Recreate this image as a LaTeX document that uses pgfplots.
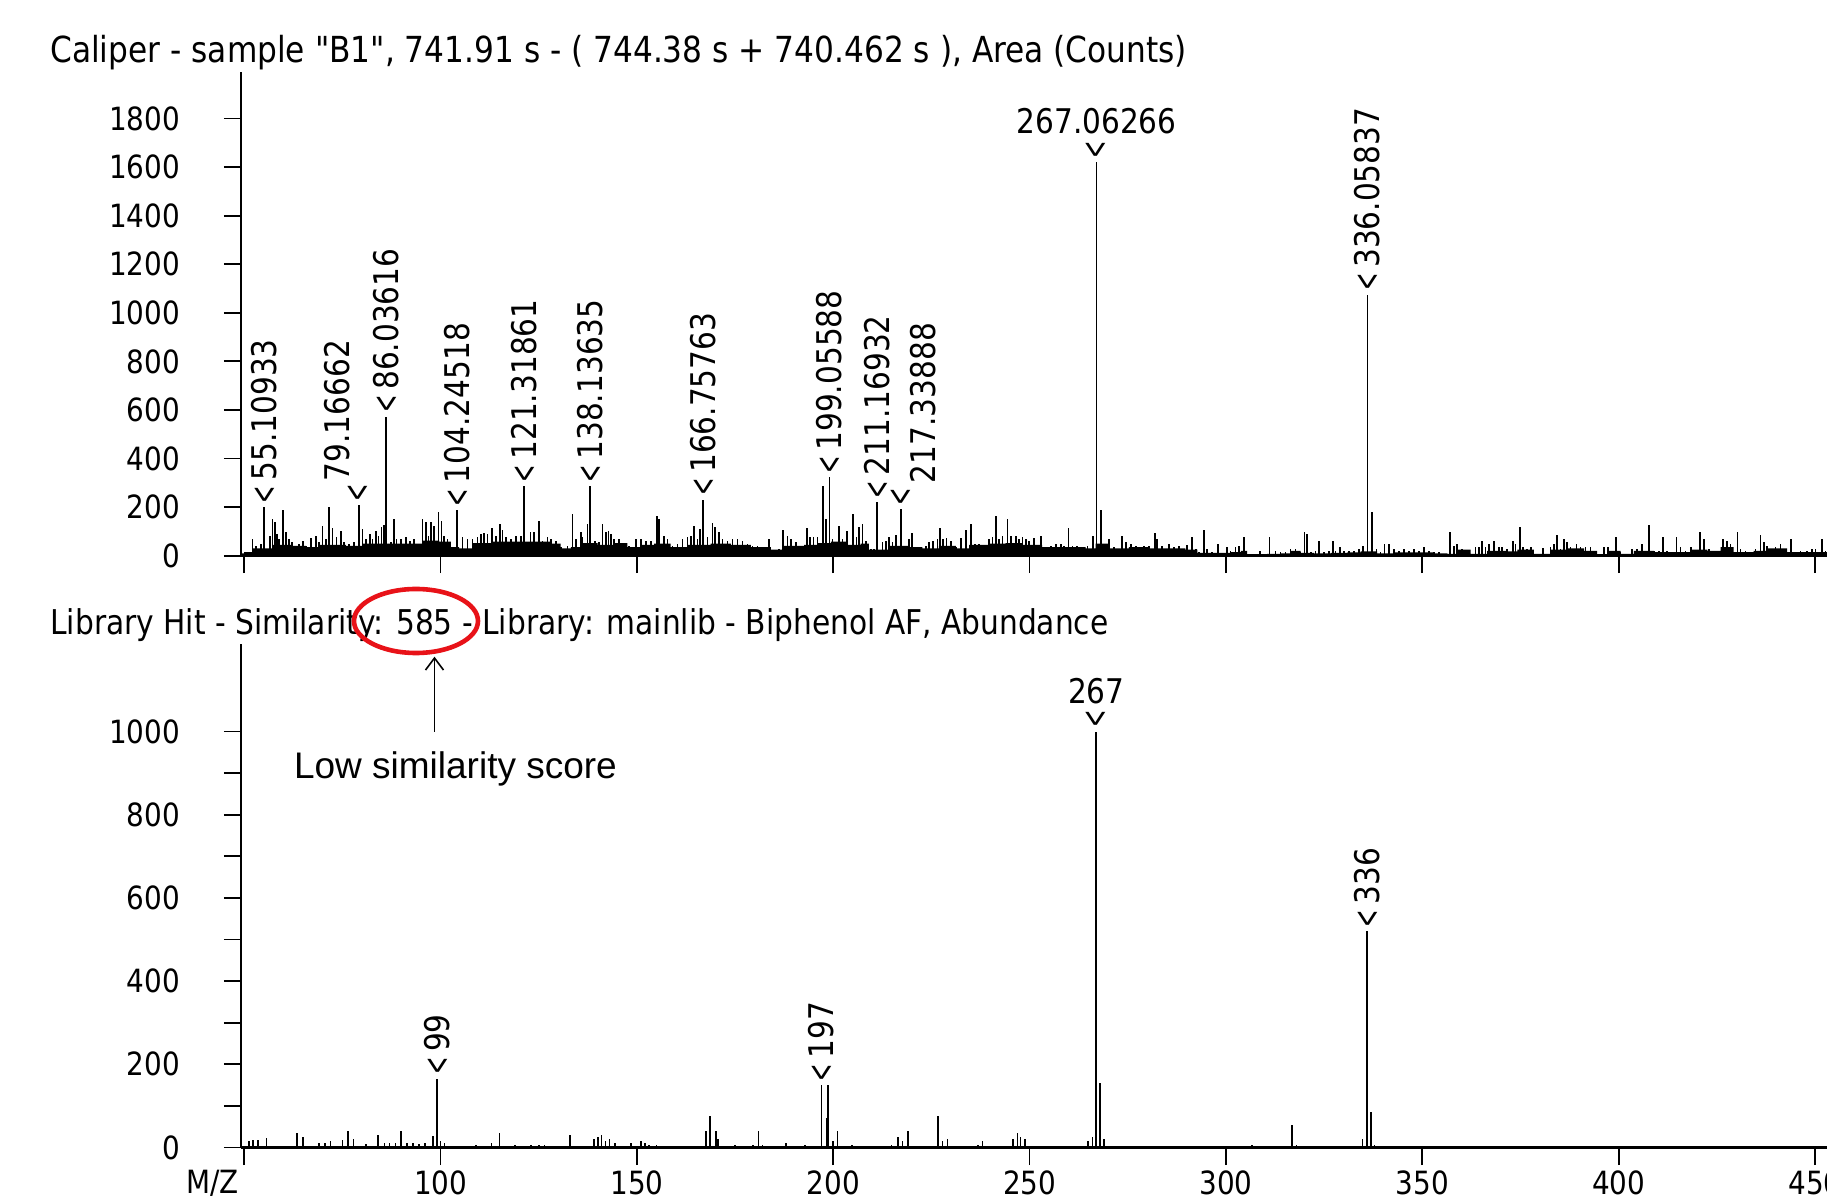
\documentclass[border=0pt]{standalone}
\usepackage{graphicx}
\usepackage{pgfplots}
\pgfplotsset{compat=1.18}
\usepackage{pgfplotstable}
\usepackage{fontspec}
\usetikzlibrary{arrows.meta}
\setmainfont{DejaVu Sans}[FakeStretch=0.87]
\newfontfamily\tah{DejaVu Sans}[FakeStretch=0.87]
\newfontfamily\arialf{Liberation Sans}
\definecolor{annred}{RGB}{232,18,24}
\newcommand{\chev}{\scalebox{0.7}[1.1]{<}}
\newcommand{\tickfont}{\fontsize{16}{19}\selectfont}
\newcommand{\lblfont}{\fontsize{17}{20}\selectfont}

\pgfplotstableread{
x y
52.13 69
52.98 41
54.25 48
55.109 199
56.54 82
57.22 151
57.82 137
58.32 89
58.92 69
59.85 189
60.62 96
61.46 69
62.14 55
63.16 34
64.01 48
65.03 62
65.71 41
66.98 71
68.26 82
69.11 55
69.96 121
70.81 69
71.65 199
72.50 113
73.52 75
74.62 103
75.47 55
76.75 48
78.02 55
79.167 208
80.13 110
80.97 69
81.99 89
82.67 69
83.52 103
84.20 82
84.96 117
85.64 126
86.036 572
87.31 55
88.16 151
88.76 69
89.86 69
91.16 75
92.18 62
93.28 69
94.13 41
95.40 151
96.25 140
96.93 82
97.52 137
98.38 124
99.48 178
100.24 144
100.92 82
101.77 69
103.04 27
104.245 188
105.60 75
106.87 69
108.15 69
109.42 75
110.27 89
111.12 93
111.97 89
113.07 113
114.09 82
115.11 130
115.79 107
116.64 75
117.91 69
119.18 82
120.46 82
121.319 285
122.93 96
123.84 96
125.11 144
125.96 62
127.23 75
128.08 69
129.35 62
130.63 34
132.32 41
133.60 172
134.45 69
135.72 96
136.14 75
137.42 130
138.136 285
139.37 62
140.39 55
141.23 130
142.08 96
142.76 103
143.36 89
144.21 69
145.48 69
146.75 48
148.02 41
149.72 69
150.99 69
152.27 62
153.54 62
155.07 162
155.66 151
156.93 82
157.78 69
159.06 41
160.33 48
161.60 69
162.87 75
163.72 82
164.57 124
165.42 69
166.10 110
166.758 230
167.97 75
169.24 133
169.83 117
170.94 96
171.78 69
173.06 62
174.33 69
175.60 69
176.88 62
178.15 48
179.42 41
180.70 41
181.97 34
183.66 69
184.94 21
186.21 27
187.23 106
188.33 82
189.18 69
190.45 55
191.73 41
193.26 114
194.10 75
194.95 75
195.97 75
197.35 288
198.09 151
199.056 322
199.79 69
201.49 124
202.33 69
203.43 103
205.05 172
205.90 75
206.58 117
207.43 130
208.28 62
209.55 27
210.40 27
211.169 220
212.52 55
213.37 62
214.22 75
215.06 55
215.91 85
217.339 192
218.46 41
219.31 69
219.99 93
221.00 34
222.28 34
223.55 41
224.40 55
225.42 62
226.52 69
227.20 113
227.96 69
228.81 74
229.92 62
231.19 34
232.46 73
233.73 107
235.01 130
236.11 48
237.13 48
238.40 41
239.67 69
240.52 75
241.37 162
242.22 69
243.07 82
244.34 151
245.19 82
246.46 82
247.31 69
248.16 75
249.01 69
249.86 62
251.13 71
252.83 82
254.10 34
255.37 41
256.65 48
257.92 48
258.77 41
259.87 113
260.89 41
262.16 41
263.43 34
264.71 41
266.15 82
267.063 1620
268.27 189
269.37 41
270.22 69
271.50 34
273.62 82
274.64 55
275.74 48
277.01 41
278.29 27
279.13 41
280.41 41
281.93 92
282.53 69
283.80 41
285.50 48
286.77 34
288.05 41
289.32 27
290.17 45
291.44 75
292.29 27
293.14 14
294.41 106
295.26 27
296.53 14
297.97 48
299.08 7
300.35 37
301.20 21
302.47 37
303.32 41
304.59 75
308.67 21
309.69 7
311.13 75
312.66 21
313.93 14
315.20 14
316.47 27
317.75 27
319.02 14
320.04 96
320.72 89
321.74 14
322.84 21
323.69 62
324.96 14
326.23 21
327.25 62
327.93 21
329.03 37
330.05 21
331.32 21
332.60 21
333.87 27
334.97 41
336.058 1074
337.27 178
338.37 27
339.39 14
340.40 48
341.51 48
342.78 27
344.05 21
345.33 27
346.60 21
347.87 27
349.14 21
350.42 34
351.69 21
352.96 14
354.24 14
355.51 7
357.04 96
358.06 41
358.90 48
360.18 27
361.45 14
362.72 7
363.57 37
364.42 34
365.27 62
366.12 34
366.97 48
368.24 62
369.51 34
370.36 34
371.63 27
373.16 62
373.76 48
374.86 117
375.71 34
376.73 27
377.75 37
380.80 30
382.67 34
383.52 48
384.37 86
385.21 27
386.06 69
386.91 55
387.76 34
389.29 48
390.31 37
391.58 37
392.85 37
396.25 37
397.27 34
398.37 7
399.39 78
400.49 14
401.76 7
403.46 27
404.73 27
406.00 48
407.70 126
408.98 21
410.25 21
411.27 78
412.37 21
413.64 14
414.75 78
415.76 34
417.04 21
418.48 37
419.58 21
420.69 99
421.70 69
422.98 27
424.25 21
425.52 7
426.63 69
427.65 62
428.49 48
430.27 99
431.04 27
432.31 21
433.58 14
434.86 27
436.13 86
436.98 55
437.83 41
438.85 27
439.95 37
441.22 48
442.07 27
443.94 69
445.04 14
446.31 21
448.01 21
449.28 27
450.13 27
451.83 69
452.68 21
}\topsticks

\pgfplotstableread{
x y
49.3 10
50.0 15
52.1 30
57.2 45
62.3 40
65.7 35
69.1 45
75.9 40
80.1 50
86.0 50
92.8 50
95.4 62
99.6 58
102.6 35
104.7 30
108.1 52
113.2 58
118.2 58
124.2 58
128.1 50
130.6 30
133.2 35
135.7 52
140.0 45
144.2 52
147.6 35
151.0 45
154.4 50
158.6 35
162.9 45
168.8 50
173.9 45
179.0 35
184.1 25
187.5 40
192.6 45
196.0 52
199.4 58
203.6 45
207.0 50
209.1 25
214.2 40
219.3 35
222.7 30
226.9 40
231.2 30
234.6 45
239.7 50
243.9 52
248.2 45
253.2 35
258.3 35
264.3 30
266.8 50
270.2 30
275.3 35
280.4 30
285.5 30
289.7 25
292.7 12
297.0 12
301.2 15
303.8 20
305.4 2
308.0 5
310.5 8
313.9 10
316.5 20
319.0 12
322.4 10
326.7 12
330.9 14
334.3 18
338.5 10
342.8 14
347.9 14
353.0 10
356.4 8
358.9 25
362.3 8
366.5 20
371.6 18
374.2 25
378.4 8
382.7 25
386.9 30
391.2 20
394.5 2
397.1 20
400.5 8
403.9 20
409.0 15
414.1 15
418.3 25
422.6 20
426.0 35
429.3 15
434.4 20
437.8 30
442.9 15
448.0 15
453.2 20
}\topfloor

\pgfplotstableread{
x y
51.2 15
52.3 18
53.5 18
55.7 22
63.4 35
65.0 25
69.0 12
70.5 12
72.0 15
75.0 18
76.4 40
77.8 20
81.0 8
84.0 30
85.7 12
87.0 12
88.5 10
90.0 40
91.5 10
93.0 10
94.5 8
96.0 10
98.1 28
99.0 165
100.0 15
101.0 10
109.0 5
113.0 10
115.0 35
119.0 5
123.0 5
125.0 5
126.5 5
133.0 30
139.0 20
140.0 25
141.0 30
142.0 15
143.0 20
144.5 10
148.5 10
151.0 15
152.0 10
153.0 5
155.0 5
167.6 40
168.7 75
170.1 40
170.7 20
175.0 5
179.5 5
181.0 40
182.0 5
188.0 10
192.8 5
197.0 150
198.3 70
198.7 150
200.0 15
201.1 40
204.8 5
214.8 5
216.5 25
217.6 15
219.1 40
226.7 75
227.8 15
229.1 20
236.9 5
238.0 15
245.8 20
246.9 35
247.7 25
248.9 20
264.8 15
266.0 25
267.0 999
268.0 155
269.0 20
306.6 5
316.8 53
318.0 5
334.8 20
336.0 520
337.0 85
337.8 5
}\botsticks

\pgfplotsset{
  msaxis/.style={
    scale only axis, width=793pt,
    xmin=49.3, xmax=453.2, ymin=0,
    axis x line*=bottom, axis y line*=left,
    tick align=outside,
    major tick length=8.75pt, minor tick length=8.75pt,
    major tick style={line width=0.9pt, black},
    minor tick style={line width=0.9pt, black},
    x axis line style={line width=1.3pt},
    y axis line style={line width=1pt},
    xtick={50,100,...,450},
    scaled ticks=false,
    /pgf/number format/assume math mode=true,
    /pgf/number format/1000 sep={},
    tick label style={font=\tickfont},
    yticklabel style={anchor=east, inner sep=0pt, xshift=-21.75pt},
    xticklabel style={anchor=north, inner sep=0pt, yshift=-2.5pt},
  },
}
\tikzset{rlab/.style={rotate=90, anchor=west, inner sep=0pt, outer sep=0pt, font=\lblfont},
  hlab/.style={anchor=south, inner sep=0pt, outer sep=0pt, font=\lblfont}}

\begin{document}
\begin{tikzpicture}
\begin{axis}[msaxis, at={(0pt,0pt)}, anchor=south west, height=241.7pt,
  ymax=1990, ytick={0,200,...,1800}, xticklabels={}]
\addplot[fill=black, draw=none, const plot] table[x=x,y=y] {\topfloor} \closedcycle;
\addplot[ycomb, black, line width=0.85pt] table[x=x,y=y] {\topsticks};
\node[yshift=2pt, rlab] at (axis cs:55.109,199) {\chev\,55.10933};
\node[yshift=2pt, rlab] at (axis cs:79.167,208) {\chev};
\node[xshift=-10.7pt, yshift=12pt, rlab] at (axis cs:79.167,208) {79.16662};
\node[yshift=2pt, rlab] at (axis cs:86.036,572) {\chev\,86.03616};
\node[yshift=2pt, rlab] at (axis cs:104.245,188) {\chev\,104.24518};
\node[yshift=2pt, rlab] at (axis cs:121.319,285) {\chev\,121.31861};
\node[yshift=2pt, rlab] at (axis cs:138.136,285) {\chev\,138.13635};
\node[yshift=2pt, rlab] at (axis cs:166.758,230) {\chev\,166.75763};
\node[yshift=2pt, rlab] at (axis cs:199.056,322) {\chev\,199.05588};
\node[yshift=2pt, rlab] at (axis cs:211.169,220) {\chev\,211.16932};
\node[yshift=2pt, rlab] at (axis cs:217.339,192) {\chev};
\node[xshift=11pt, yshift=13pt, rlab] at (axis cs:217.339,192) {217.33888};
\node[yshift=2pt, rlab] at (axis cs:267.063,1620) {\chev};
\node[yshift=14pt, hlab] at (axis cs:267.063,1620) {267.06266};
\node[yshift=2pt, rlab] at (axis cs:336.058,1074) {\chev\,336.05837};
\end{axis}

\begin{axis}[msaxis, at={(0pt,-295.9pt)}, anchor=south west, height=251.7pt,
  ymax=1210, ytick={0,200,...,1000}, minor ytick={100,300,...,900},
  xticklabels={,100,150,200,250,300,350,400,450}]
\addplot[ycomb, black, line width=0.85pt] table[x=x,y=y] {\botsticks};
\node[yshift=2pt, rlab] at (axis cs:99,165) {\chev\,99};
\node[yshift=2pt, rlab] at (axis cs:197,150) {\chev\,197};
\node[yshift=2pt, rlab] at (axis cs:336,520) {\chev\,336};
\node[yshift=2pt, rlab] at (axis cs:267,999) {\chev};
\node[yshift=14pt, hlab] at (axis cs:267,999) {267};
\end{axis}

\node[anchor=north east, inner sep=0pt, font=\tickfont] at (-1.3pt,-307.15pt) {M/Z};

\node[anchor=base west, inner sep=0pt, font=\tah\fontsize{17.94}{20}\selectfont] at (-95.75pt,246.35pt)
  {Caliper - sample "B1", 741.91 s - ( 744.38 s + 740.462 s ), Area (Counts)};
\node[anchor=base west, inner sep=0pt, font=\tah\fontsize{17.06}{20}\selectfont] at (-95.75pt,-39.65pt)
  {Library Hit - Similarity: 585 - Library: mainlib - Biphenol AF, Abundance};

\draw[annred, line width=2.3pt] (87.25pt,-32.65pt) ellipse [x radius=31pt, y radius=16pt];
\draw[line width=0.8pt, -{Straight Barb[length=6pt,width=9pt]}] (96.5pt,-87.95pt) -- (96.5pt,-50.5pt);
\node[anchor=base, inner sep=0pt, font=\arialf\fontsize{18.5}{21}\selectfont] at (107pt,-111.2pt) {Low similarity score};

\pgfresetboundingbox
\useasboundingbox (-120.75pt,-324.15pt) rectangle (792.75pt,277.85pt);
\end{tikzpicture}
\end{document}
